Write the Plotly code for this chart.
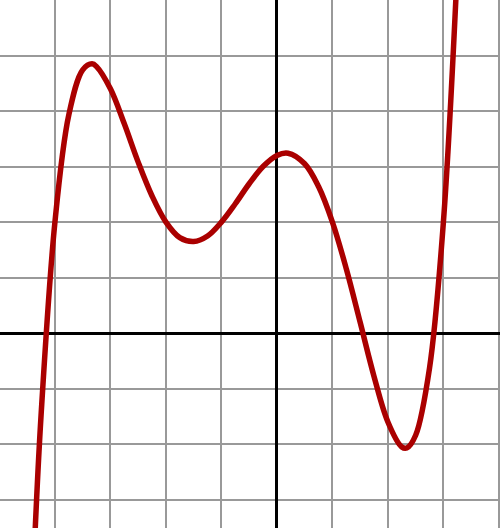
import plotly.graph_objects as go

xs = [-4.36, -4.25, -4.0, -3.75, -3.5, -3.33, -3.25, -3.0, -2.75, -2.5, -2.25, -2.0, -1.75, -1.5, -1.25, -1.0, -0.75, -0.5, -0.25, 0.0, 0.2, 0.5, 0.75, 1.0, 1.25, 1.5, 1.75, 2.0, 2.25, 2.34, 2.5, 2.75, 3.0, 3.25]
ys = [-3.63, -1.48, 2.0, 3.93, 4.74, 4.85, 4.80, 4.4, 3.77, 3.08, 2.47, 2.0, 1.72, 1.65, 1.75, 2.0, 2.33, 2.69, 3.0, 3.2, 3.24, 3.05, 2.64, 2.0, 1.16, 0.195, -0.78, -1.6, -2.05, -2.07, -1.84, -0.63, 2.0, 6.55]

fig = go.Figure(go.Scatter(x=xs, y=ys, mode="lines", line=dict(color="#aa0000", width=5.5, shape="spline", smoothing=1.0)))
ax = dict(showgrid=True, gridcolor="#999999", gridwidth=1.5, dtick=1, tick0=0,
          zeroline=True, zerolinecolor="black", zerolinewidth=2.5, showticklabels=False, ticks="")
fig.update_layout(width=500, height=528, margin=dict(l=0, r=0, t=0, b=0),
                  plot_bgcolor="white", paper_bgcolor="white", showlegend=False,
                  xaxis=dict(range=[-4.99, 4.02], **ax), yaxis=dict(range=[-3.51, 6.0], **ax))
fig.write_html("out.html", config={"displayModeBar": False}, post_script="document.body.style.margin='0';")
